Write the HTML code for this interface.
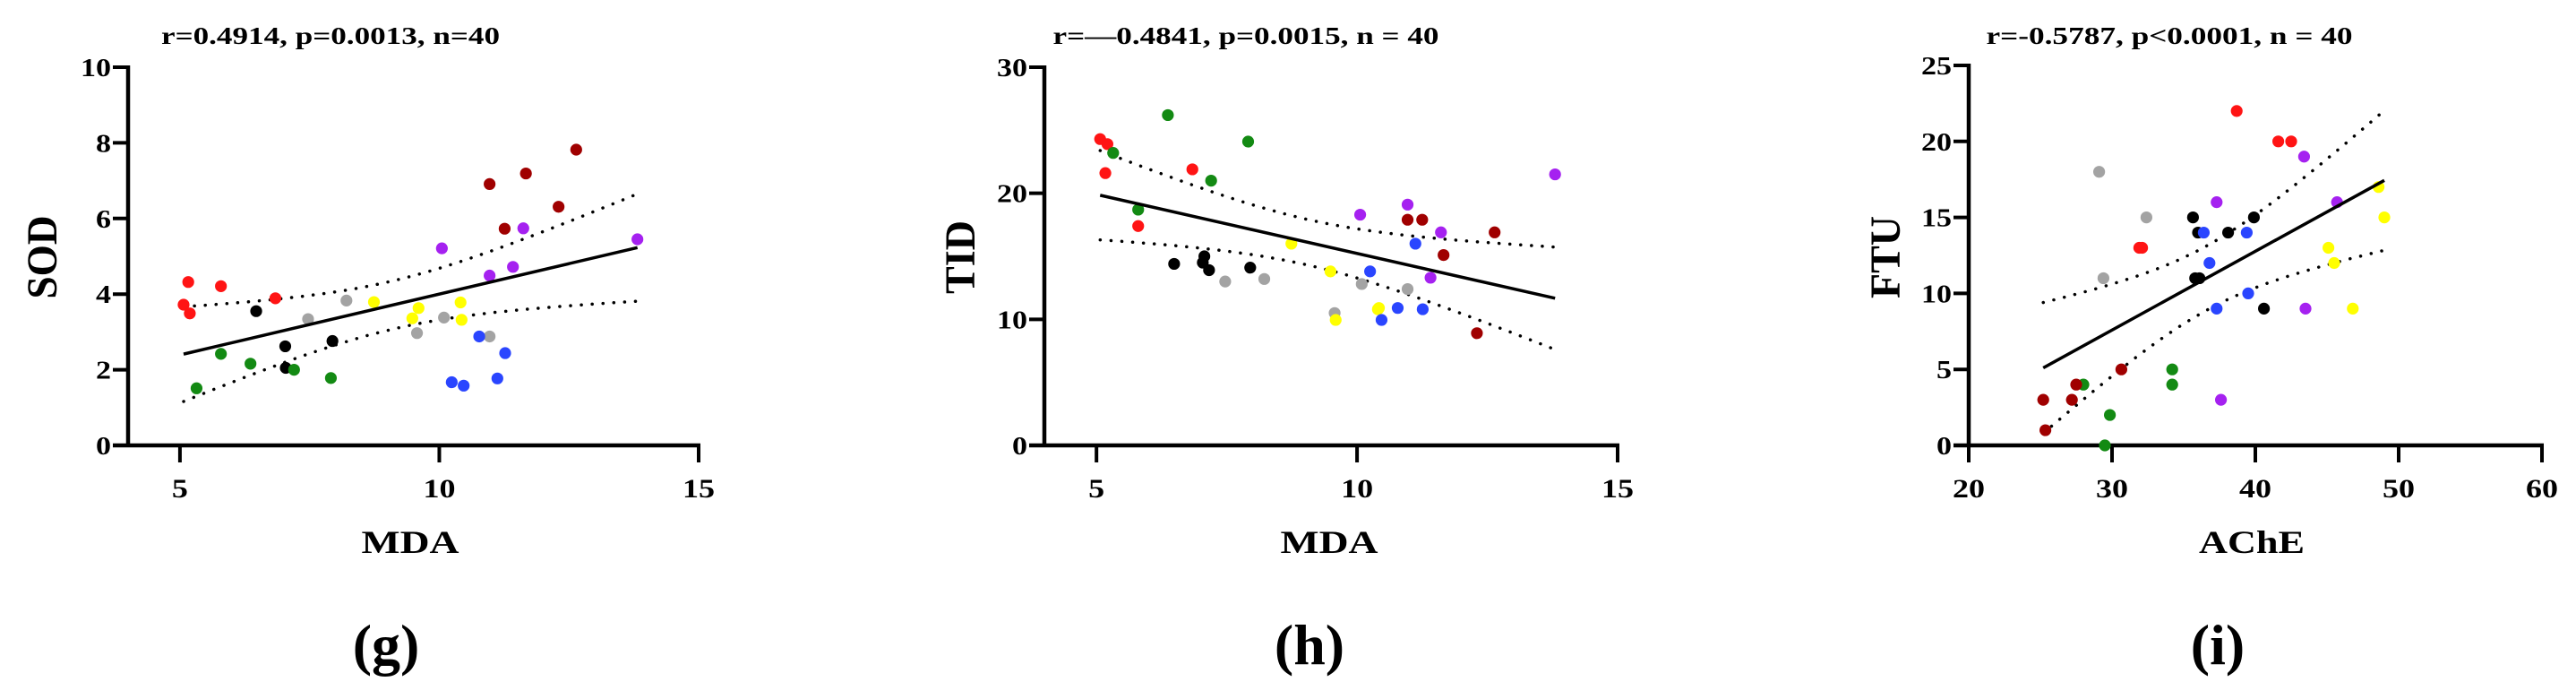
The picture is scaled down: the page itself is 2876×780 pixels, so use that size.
<!DOCTYPE html>
<html><head><meta charset="utf-8"><style>
html,body{margin:0;padding:0;background:#fff;}
svg{display:block;}
text{font-family:"Liberation Serif","Times New Roman",serif;font-weight:bold;fill:#000;}
</style></head><body>
<svg id="fig" width="2876" height="780" viewBox="0 0 2876 780" xmlns="http://www.w3.org/2000/svg"></svg>
<script>
// ---------- Data ----------
const colorNames = ["red","black","gray","yellow","green","blue","purple","darkred"];
const colorValues = ["#ff1414","#000000","#a3a3a3","#ffff00","#138a13","#2a45ff","#a521f0","#a00000"];

// Panel g: MDA vs SOD
const gX = [5.16,5.79,5.07,5.19,6.84, 6.47,7.03,7.94,7.04, 7.47,8.21,9.57,10.09,10.97, 8.74,9.6,9.48,10.41,10.43, 5.79,6.36,7.2,7.91,5.32, 10.77,11.27,10.24,10.47,11.12, 10.05,10.97,11.42,11.62,13.82, 10.97,11.67,12.64,12.3,11.26];
const gY = [4.32,4.21,3.72,3.49,3.89, 3.55,2.62,2.76,2.05, 3.34,3.83,2.97,3.38,2.88, 3.79,3.63,3.36,3.78,3.32, 2.42,2.16,2.0,1.78,1.51, 2.88,2.44,1.67,1.58,1.77, 5.21,4.49,4.72,5.74,5.45, 6.91,7.19,7.82,6.31,5.73];
const gC = [0,0,0,0,0, 1,1,1,1, 2,2,2,2,2, 3,3,3,3,3, 4,4,4,4,4, 5,5,5,5,5, 6,6,6,6,6, 7,7,7,7,7];

// Panel h: MDA vs TID
const hX = [5.07,5.21,5.17,6.84,5.8, 6.37,7.91,5.32,7.2,5.8, 6.49,7.07,7.04,7.16,7.95, 7.47,8.22,10.09,10.97,9.57, 8.74,9.49,9.59,10.42,10.4, 10.25,11.12,10.78,11.26,10.47, 10.06,10.97,11.61,11.41,13.8, 10.97,11.25,12.64,11.66,12.3];
const hY = [24.3,23.9,21.6,21.9,17.4, 26.2,24.1,23.2,21.0,18.7, 14.4,15.0,14.5,13.9,14.1, 13.0,13.2,12.8,12.4,10.5, 16.0,13.8,9.95,10.9,10.8, 13.8,16.0,10.9,10.8,9.95, 18.3,19.1,16.9,13.3,21.5, 17.9,17.9,16.9,15.1,8.9];
const hC = [0,0,0,0,0, 4,4,4,4,4, 1,1,1,1,1, 2,2,2,2,2, 3,3,3,3,3, 5,5,5,5,5, 6,6,6,6,6, 7,7,7,7,7];

// Panel i: AChE vs FTU
const iX = [38.7,41.6,42.5,31.9,32.1, 29.1,32.4,29.4, 35.65,36.0,38.1,39.9,35.8,36.1,40.6, 36.4,39.4,36.8,39.5,37.3, 43.4,37.3,45.7,43.5,37.6, 48.6,49.0,45.1,45.5,46.8, 34.2,34.2,28.0,29.85,29.5, 25.2,27.2,27.5,30.65,25.35];
const iY = [22,20,20,13,13, 18,15,11, 15,14,14,15,11,11,9, 14,14,12,10,9, 19,16,16,9,3, 17,15,13,12,9, 5,4,4,2,0, 3,3,4,5,1];
const iC = [0,0,0,0,0, 2,2,2, 1,1,1,1,1,1,1, 5,5,5,5,5, 6,6,6,6,6, 3,3,3,3,3, 4,4,4,4,4, 7,7,7,7,7];

const gTicksX = [5,10,15], gTicksY = [0,2,4,6,8,10];
const hTicksX = [5,10,15], hTicksY = [0,10,20,30];
const iTicksX = [20,30,40,50,60], iTicksY = [0,5,10,15,20,25];

// ---------- Layout ----------
const NS = "http://www.w3.org/2000/svg";
const svg = document.getElementById("fig");
function mk(tag, attrs, parent){
  const e = document.createElementNS(NS, tag);
  for (const k in attrs) e.setAttribute(k, attrs[k]);
  (parent||svg).appendChild(e);
  return e;
}

const panels = [
  {id:"g", xs:gX, ys:gY, cs:gC, tx:gTicksX, ty:gTicksY, xmin:4, xmax:15, ymax:10,
   x0:143, x1:780, yTop:75, yBot:497,
   title:"r=0.4914, p=0.0013, n=40", titleX:369, titleW:378,
   ylab:"SOD", ylabX:46, ylabW:93, xlab:"MDA", xlabX:458, letter:"(g)", letterX:431},
  {id:"h", xs:hX, ys:hY, cs:hC, tx:hTicksX, ty:hTicksY, xmin:4, xmax:15, ymax:30,
   x0:1166, x1:1806, yTop:75, yBot:497,
   title:"r=\u20140.4841, p=0.0015, n = 40", titleX:1391, titleW:431,
   ylab:"TID", ylabX:1071, ylabW:82, xlab:"MDA", xlabX:1484, letter:"(h)", letterX:1462},
  {id:"i", xs:iX, ys:iY, cs:iC, tx:iTicksX, ty:iTicksY, xmin:20, xmax:60, ymax:25,
   x0:2198, x1:2838, yTop:73, yBot:497,
   title:"r=-0.5787, p<0.0001, n = 40", titleX:2422, titleW:409,
   ylab:"FTU", ylabX:2104, ylabW:92, xlab:"AChE", xlabX:2514, letter:"(i)", letterX:2476}
];

panels.forEach(p => {
  const g = mk("g", {});
  
  
  const sx = v => p.x0 + (v - p.xmin) / (p.xmax - p.xmin) * (p.x1 - p.x0);
  const sy = v => p.yBot - v / p.ymax * (p.yBot - p.yTop);

  const t = mk("text", {x:p.titleX, y:49, "text-anchor":"middle", "font-size":27, textLength:p.titleW, lengthAdjust:"spacingAndGlyphs"}, g);
  t.textContent = p.title;
  
  

  const ya = mk("line", {x1:p.x0, y1:p.yTop-2, x2:p.x0, y2:p.yBot+2, stroke:"#000", "stroke-width":4.5}, g);
  
  
  const xa = mk("line", {x1:p.x0-17, y1:p.yBot, x2:p.x1+2, y2:p.yBot, stroke:"#000", "stroke-width":4.5}, g);
  
  

  p.ty.forEach(v => {
    const yy = sy(v);
    const tk = mk("line", {x1:p.x0-17, y1:yy, x2:p.x0, y2:yy, stroke:"#000", "stroke-width":4}, g);
    
    
    const lb = mk("text", {x:p.x0-19, y:yy+10, "text-anchor":"end", "font-size":29, textLength:(String(v).length*17), lengthAdjust:"spacingAndGlyphs"}, g);
    lb.textContent = v;
    
    
  });
  p.tx.forEach(v => {
    const xx = sx(v);
    const tk = mk("line", {x1:xx, y1:p.yBot, x2:xx, y2:p.yBot+19, stroke:"#000", "stroke-width":4}, g);
    
    
    const lb = mk("text", {x:xx, y:555, "text-anchor":"middle", "font-size":30, textLength:(String(v).length*18), lengthAdjust:"spacingAndGlyphs"}, g);
    lb.textContent = v;
    
    
  });

  const yl = mk("text", {x:0, y:0, "text-anchor":"middle", "font-size":48, textLength:p.ylabW, lengthAdjust:"spacingAndGlyphs",
    transform:"translate(" + (p.ylabX+17) + ",287) rotate(-90)"}, g);
  yl.textContent = p.ylab;
  
  
  const xl = mk("text", {x:p.xlabX, y:617, "text-anchor":"middle", "font-size":36, textLength:(p.xlab.length===3?109:118), lengthAdjust:"spacingAndGlyphs"}, g);
  xl.textContent = p.xlab;
  
  
  const pl = mk("text", {x:p.letterX, y:741, "text-anchor":"middle", "font-size":64}, g);
  pl.textContent = p.letter;
  
  

  // regression from data
  const n = p.xs.length;
  const mx = p.xs.reduce((a,b)=>a+b,0)/n, my = p.ys.reduce((a,b)=>a+b,0)/n;
  let sxx=0, sxy=0;
  for (let k=0;k<n;k++){ sxx += (p.xs[k]-mx)**2; sxy += (p.xs[k]-mx)*(p.ys[k]-my); }
  const b = sxy/sxx, a = my - b*mx;
  let sse = 0;
  for (let k=0;k<n;k++){ sse += (p.ys[k]-(a+b*p.xs[k]))**2; }
  const s = Math.sqrt(sse/(n-2)), tcrit = 2.78;
  const lo = Math.min(...p.xs), hi = Math.max(...p.xs);
  let up = "", dn = "";
  for (let k=0;k<=60;k++){
    const xv = lo + (hi-lo)*k/60;
    const se = s*Math.sqrt(1/n + (xv-mx)**2/sxx);
    const yh = a + b*xv;
    up += (k?"L":"M") + sx(xv).toFixed(1) + "," + sy(yh + tcrit*se).toFixed(1);
    dn += (k?"L":"M") + sx(xv).toFixed(1) + "," + sy(yh - tcrit*se).toFixed(1);
  }
  const cu = mk("path", {d:up, fill:"none", stroke:"#000", "stroke-width":3.5, "stroke-dasharray":"0.1 12", "stroke-linecap":"round"}, g);
  
  
  const cd = mk("path", {d:dn, fill:"none", stroke:"#000", "stroke-width":3.5, "stroke-dasharray":"0.1 12", "stroke-linecap":"round"}, g);
  
  

  for (let k=0;k<n;k++){
    const c = mk("circle", {cx:sx(p.xs[k]), cy:sy(p.ys[k]), r:6.6, fill:colorValues[p.cs[k]]}, g);
    
    
  }

  const fl = mk("line", {x1:sx(lo), y1:sy(a+b*lo), x2:sx(hi), y2:sy(a+b*hi), stroke:"#000", "stroke-width":3.5}, g);
  
  
});
</script>
</body></html>
